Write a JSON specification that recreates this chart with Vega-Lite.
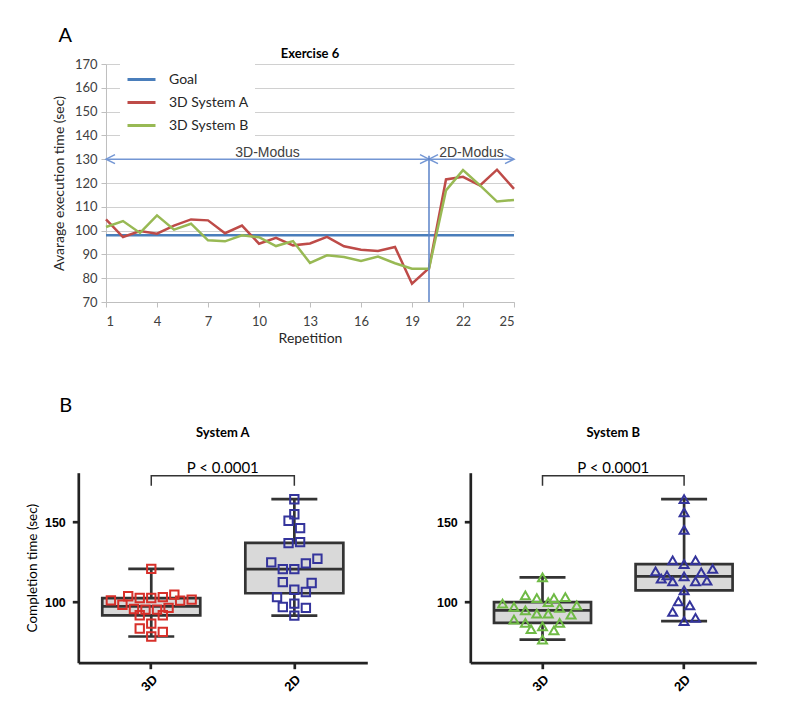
{
  "$schema": "https://vega.github.io/schema/vega-lite/v6.json",
  "background": "white",
  "padding": {"left": 25.3, "top": 25, "right": 5, "bottom": 5},
  "config": {"view": {"stroke": null}, "font": "Lato"},
  "datasets": {
    "series": [
      {"rep": 1, "time": 98, "series": "Goal"},
      {"rep": 25, "time": 98, "series": "Goal"},
      {"rep": 1, "time": 104.7, "series": "3D System A"},
      {"rep": 2, "time": 97.3, "series": "3D System A"},
      {"rep": 3, "time": 99.8, "series": "3D System A"},
      {"rep": 4, "time": 98.7, "series": "3D System A"},
      {"rep": 5, "time": 102.1, "series": "3D System A"},
      {"rep": 6, "time": 104.7, "series": "3D System A"},
      {"rep": 7, "time": 104.3, "series": "3D System A"},
      {"rep": 8, "time": 98.9, "series": "3D System A"},
      {"rep": 9, "time": 102.1, "series": "3D System A"},
      {"rep": 10, "time": 94.5, "series": "3D System A"},
      {"rep": 11, "time": 97, "series": "3D System A"},
      {"rep": 12, "time": 93.8, "series": "3D System A"},
      {"rep": 13, "time": 94.6, "series": "3D System A"},
      {"rep": 14, "time": 97.4, "series": "3D System A"},
      {"rep": 15, "time": 93.4, "series": "3D System A"},
      {"rep": 16, "time": 92, "series": "3D System A"},
      {"rep": 17, "time": 91.4, "series": "3D System A"},
      {"rep": 18, "time": 93.1, "series": "3D System A"},
      {"rep": 19, "time": 77.7, "series": "3D System A"},
      {"rep": 20, "time": 84.2, "series": "3D System A"},
      {"rep": 21, "time": 121.5, "series": "3D System A"},
      {"rep": 22, "time": 122.6, "series": "3D System A"},
      {"rep": 23, "time": 119, "series": "3D System A"},
      {"rep": 24, "time": 125.6, "series": "3D System A"},
      {"rep": 25, "time": 117.5, "series": "3D System A"},
      {"rep": 1, "time": 101.5, "series": "3D System B"},
      {"rep": 2, "time": 104, "series": "3D System B"},
      {"rep": 3, "time": 99, "series": "3D System B"},
      {"rep": 4, "time": 106.4, "series": "3D System B"},
      {"rep": 5, "time": 100.4, "series": "3D System B"},
      {"rep": 6, "time": 102.9, "series": "3D System B"},
      {"rep": 7, "time": 95.9, "series": "3D System B"},
      {"rep": 8, "time": 95.5, "series": "3D System B"},
      {"rep": 9, "time": 98, "series": "3D System B"},
      {"rep": 10, "time": 97.2, "series": "3D System B"},
      {"rep": 11, "time": 93.5, "series": "3D System B"},
      {"rep": 12, "time": 95.6, "series": "3D System B"},
      {"rep": 13, "time": 86.4, "series": "3D System B"},
      {"rep": 14, "time": 89.6, "series": "3D System B"},
      {"rep": 15, "time": 88.9, "series": "3D System B"},
      {"rep": 16, "time": 87.2, "series": "3D System B"},
      {"rep": 17, "time": 89.1, "series": "3D System B"},
      {"rep": 18, "time": 86.3, "series": "3D System B"},
      {"rep": 19, "time": 84, "series": "3D System B"},
      {"rep": 20, "time": 84, "series": "3D System B"},
      {"rep": 21, "time": 116.9, "series": "3D System B"},
      {"rep": 22, "time": 125.4, "series": "3D System B"},
      {"rep": 23, "time": 119, "series": "3D System B"},
      {"rep": 24, "time": 112.2, "series": "3D System B"},
      {"rep": 25, "time": 112.9, "series": "3D System B"}
    ],
    "modus": [
      {"label": "3D-Modus", "start": 1, "end": 20, "mid": 10.5, "level": 130, "labelLevel": 130.8},
      {"label": "2D-Modus", "start": 20, "end": 25, "mid": 22.5, "level": 130, "labelLevel": 130.8}
    ],
    "heads": [
      {"rep": 1, "level": 130, "dir": "left"},
      {"rep": 20, "level": 130, "dir": "right"},
      {"rep": 20, "level": 130, "dir": "left"},
      {"rep": 25, "level": 130, "dir": "right"}
    ],
    "scores": [
      {"system": "A", "group": "3D", "value": 120.8, "lane": 0},
      {"system": "A", "group": "3D", "value": 101, "lane": -7},
      {"system": "A", "group": "3D", "value": 98.3, "lane": -5},
      {"system": "A", "group": "3D", "value": 103.6, "lane": -4},
      {"system": "A", "group": "3D", "value": 102.5, "lane": -2},
      {"system": "A", "group": "3D", "value": 102.5, "lane": 0},
      {"system": "A", "group": "3D", "value": 103.1, "lane": 2},
      {"system": "A", "group": "3D", "value": 104.6, "lane": 4},
      {"system": "A", "group": "3D", "value": 100.9, "lane": 5},
      {"system": "A", "group": "3D", "value": 101.5, "lane": 7},
      {"system": "A", "group": "3D", "value": 95.6, "lane": -3},
      {"system": "A", "group": "3D", "value": 95.2, "lane": -1},
      {"system": "A", "group": "3D", "value": 95.2, "lane": 1},
      {"system": "A", "group": "3D", "value": 96.3, "lane": 3},
      {"system": "A", "group": "3D", "value": 91.7, "lane": -2},
      {"system": "A", "group": "3D", "value": 91.7, "lane": 2},
      {"system": "A", "group": "3D", "value": 83.4, "lane": -2},
      {"system": "A", "group": "3D", "value": 86.5, "lane": 0},
      {"system": "A", "group": "3D", "value": 81.3, "lane": 2},
      {"system": "A", "group": "3D", "value": 78.4, "lane": 0},
      {"system": "A", "group": "2D", "value": 164.4, "lane": 0},
      {"system": "A", "group": "2D", "value": 155, "lane": 0},
      {"system": "A", "group": "2D", "value": 150.9, "lane": -1},
      {"system": "A", "group": "2D", "value": 146.3, "lane": 1},
      {"system": "A", "group": "2D", "value": 136.9, "lane": -1},
      {"system": "A", "group": "2D", "value": 137.5, "lane": 1},
      {"system": "A", "group": "2D", "value": 124.8, "lane": -4},
      {"system": "A", "group": "2D", "value": 127.1, "lane": 4},
      {"system": "A", "group": "2D", "value": 124.2, "lane": 2},
      {"system": "A", "group": "2D", "value": 120.6, "lane": -2},
      {"system": "A", "group": "2D", "value": 120.6, "lane": 0},
      {"system": "A", "group": "2D", "value": 112.5, "lane": -2},
      {"system": "A", "group": "2D", "value": 111.9, "lane": 3},
      {"system": "A", "group": "2D", "value": 107.7, "lane": 0},
      {"system": "A", "group": "2D", "value": 106.3, "lane": 2},
      {"system": "A", "group": "2D", "value": 103.1, "lane": -3},
      {"system": "A", "group": "2D", "value": 96.9, "lane": -2},
      {"system": "A", "group": "2D", "value": 99, "lane": 0},
      {"system": "A", "group": "2D", "value": 96.3, "lane": 2},
      {"system": "A", "group": "2D", "value": 91.5, "lane": 0},
      {"system": "B", "group": "3D", "value": 115.4, "lane": 0},
      {"system": "B", "group": "3D", "value": 104.2, "lane": -3},
      {"system": "B", "group": "3D", "value": 102.5, "lane": -1},
      {"system": "B", "group": "3D", "value": 102.5, "lane": 2},
      {"system": "B", "group": "3D", "value": 103.1, "lane": 4},
      {"system": "B", "group": "3D", "value": 100, "lane": 1},
      {"system": "B", "group": "3D", "value": 99, "lane": -7},
      {"system": "B", "group": "3D", "value": 97.9, "lane": 6},
      {"system": "B", "group": "3D", "value": 96.9, "lane": -5},
      {"system": "B", "group": "3D", "value": 96.3, "lane": 3},
      {"system": "B", "group": "3D", "value": 94.8, "lane": -3},
      {"system": "B", "group": "3D", "value": 92.7, "lane": -1},
      {"system": "B", "group": "3D", "value": 92.7, "lane": 1},
      {"system": "B", "group": "3D", "value": 92.1, "lane": 5},
      {"system": "B", "group": "3D", "value": 89, "lane": -5},
      {"system": "B", "group": "3D", "value": 86.9, "lane": -3},
      {"system": "B", "group": "3D", "value": 86.9, "lane": 3},
      {"system": "B", "group": "3D", "value": 84.8, "lane": 0},
      {"system": "B", "group": "3D", "value": 83.1, "lane": -2},
      {"system": "B", "group": "3D", "value": 82.3, "lane": 2},
      {"system": "B", "group": "3D", "value": 76.5, "lane": 0},
      {"system": "B", "group": "2D", "value": 164.4, "lane": 0},
      {"system": "B", "group": "2D", "value": 156.2, "lane": 0},
      {"system": "B", "group": "2D", "value": 145.2, "lane": 0},
      {"system": "B", "group": "2D", "value": 126.1, "lane": -2},
      {"system": "B", "group": "2D", "value": 126.1, "lane": 2},
      {"system": "B", "group": "2D", "value": 123.8, "lane": 0},
      {"system": "B", "group": "2D", "value": 119.2, "lane": -5},
      {"system": "B", "group": "2D", "value": 120.8, "lane": 5},
      {"system": "B", "group": "2D", "value": 116.7, "lane": -3},
      {"system": "B", "group": "2D", "value": 118.5, "lane": 3},
      {"system": "B", "group": "2D", "value": 114.6, "lane": -4},
      {"system": "B", "group": "2D", "value": 116.1, "lane": 0},
      {"system": "B", "group": "2D", "value": 112.9, "lane": -2},
      {"system": "B", "group": "2D", "value": 112.9, "lane": 2},
      {"system": "B", "group": "2D", "value": 113.4, "lane": 4},
      {"system": "B", "group": "2D", "value": 107.3, "lane": 0},
      {"system": "B", "group": "2D", "value": 100.4, "lane": -1},
      {"system": "B", "group": "2D", "value": 97.9, "lane": 1},
      {"system": "B", "group": "2D", "value": 93.8, "lane": -2},
      {"system": "B", "group": "2D", "value": 90, "lane": 2},
      {"system": "B", "group": "2D", "value": 88, "lane": 0}
    ],
    "bracket": [
      {"system": "A", "group": "3D", "level": 172.9, "ord": 1},
      {"system": "A", "group": "3D", "level": 179.1, "ord": 2},
      {"system": "A", "group": "2D", "level": 179.1, "ord": 3},
      {"system": "A", "group": "2D", "level": 172.9, "ord": 4},
      {"system": "B", "group": "3D", "level": 172.9, "ord": 1},
      {"system": "B", "group": "3D", "level": 179.1, "ord": 2},
      {"system": "B", "group": "2D", "level": 179.1, "ord": 3},
      {"system": "B", "group": "2D", "level": 172.9, "ord": 4}
    ]
  },
  "bounds": "flush",
  "spacing": 408.7,
  "resolve": {"scale": {"x": "independent", "y": "independent", "color": "independent", "shape": "independent", "xOffset": "independent"}, "legend": {"color": "independent", "shape": "independent"}},
  "vconcat": [
    {
      "title": {"text": "A", "anchor": "start", "frame": "bounds", "font": "Lato", "fontSize": 20, "fontWeight": "normal", "color": "black", "dx": 6, "offset": 2.5},
      "bounds": "flush",
      "spacing": 26.7,
      "resolve": {"scale": {"x": "independent", "y": "independent", "color": "independent", "shape": "independent"}, "legend": {"color": "independent", "shape": "independent"}},
      "hconcat": [
        {
          "width": 1, "height": 1,
          "data": {"values": [{"k": 0}]},
          "mark": {"type": "point", "opacity": 0},
          "encoding": {}
        },
        {
          "width": 408, "height": 238,
          "title": {"text": "Exercise 6", "font": "Lato", "fontSize": 13, "fontWeight": "bold", "color": "black", "offset": -3},
          "layer": [
            {
              "data": {"name": "series"},
              "mark": {"type": "line", "strokeWidth": 2.5},
              "encoding": {
                "x": {"field": "rep", "type": "quantitative", "scale": {"domain": [1, 25], "nice": false, "zero": false},
                  "axis": {"values": [1, 4, 7, 10, 13, 16, 19, 22, 25], "tickCount": 9, "title": "Repetition", "grid": false, "domainColor": "#bfbfbf", "tickColor": "#bfbfbf", "tickSize": 5, "labelFont": "Lato", "labelFontSize": 13, "labelColor": "#404040", "labelPadding": 8.5, "titleFont": "Lato", "titleFontSize": 14, "titleFontWeight": "normal", "titleColor": "#262626", "titlePadding": 3}},
                "y": {"field": "time", "type": "quantitative", "scale": {"domain": [70, 170], "nice": false, "zero": false},
                  "axis": {"values": [70, 80, 90, 100, 110, 120, 130, 140, 150, 160, 170], "tickCount": 11, "title": "Avarage execution time (sec)", "grid": true, "gridColor": "#d0d0d0", "gridWidth": 1, "domainColor": "#bfbfbf", "tickColor": "#bfbfbf", "tickSize": 5, "labelFont": "Lato", "labelFontSize": 13, "labelColor": "#404040", "labelPadding": 4, "labelOverlap": false, "titleFont": "Lato", "titleFontSize": 14, "titleFontWeight": "normal", "titleColor": "#262626", "titlePadding": 8}},
                "color": {"field": "series", "type": "nominal",
                  "scale": {"domain": ["Goal", "3D System A", "3D System B"], "range": ["#4a7ebb", "#be4b48", "#98b954"]},
                  "legend": {"orient": "none", "legendX": 14, "legendY": -6, "title": null, "symbolType": "stroke", "symbolSize": 784, "symbolStrokeWidth": 3, "labelFont": "Lato", "labelFontSize": 14, "labelColor": "#262626", "fillColor": "white", "padding": 6, "rowPadding": -9, "labelOffset": 12}}
              }
            },
            {
              "data": {"name": "modus"},
              "mark": {"type": "rule", "color": "#7396d4", "strokeWidth": 1.5},
              "encoding": {
                "x": {"field": "start", "type": "quantitative"},
                "x2": {"field": "end"},
                "y": {"field": "level", "type": "quantitative"}
              }
            },
            {
              "data": {"name": "heads"},
              "mark": {"type": "point", "filled": false, "size": 81, "strokeWidth": 1.5, "color": "#7396d4", "opacity": 1},
              "encoding": {
                "x": {"field": "rep", "type": "quantitative"},
                "y": {"field": "level", "type": "quantitative"},
                "shape": {"field": "dir", "type": "nominal", "scale": {"domain": ["left", "right"], "range": ["M2,-1L0,0L2,1", "M-2,-1L0,0L-2,1"]}, "legend": null}
              }
            },
            {
              "data": {"name": "modus"},
              "mark": {"type": "text", "font": "Liberation Sans Narrow, Arial Narrow, Liberation Sans", "fontSize": 14, "color": "#404040", "baseline": "alphabetic"},
              "encoding": {
                "x": {"field": "mid", "type": "quantitative"},
                "y": {"field": "labelLevel", "type": "quantitative"},
                "text": {"field": "label"}
              }
            },
            {
              "data": {"values": [{"rep": 20, "lo": 70, "hi": 131.5}]},
              "mark": {"type": "rule", "color": "#5b82c8", "strokeWidth": 1.5},
              "encoding": {
                "x": {"field": "rep", "type": "quantitative"},
                "y": {"field": "lo", "type": "quantitative"},
                "y2": {"field": "hi"}
              }
            }
          ]
        }
      ]
    },
    {
      "title": {"text": "B", "anchor": "start", "frame": "bounds", "font": "Lato", "fontSize": 20, "fontWeight": "normal", "color": "black", "dx": 33.7, "offset": 11},
      "bounds": "flush",
      "spacing": 103,
      "resolve": {"scale": {"x": "independent", "y": "independent", "color": "independent", "shape": "independent", "xOffset": "independent"}},
      "hconcat": [
        {
          "width": 289, "height": 190,
          "title": {"text": "System A", "subtitle": "P < 0.0001", "font": "Lato", "fontSize": 13, "fontWeight": "bold", "color": "black", "subtitleFont": "Lato", "subtitleFontSize": 15, "subtitleColor": "black", "subtitlePadding": 21, "offset": -3},
          "layer": [
            {
              "data": {"name": "scores"},
              "transform": [{"filter": "datum.system === 'A'"}],
              "mark": {"type": "boxplot", "extent": "min-max", "size": 98,
                "box": {"fill": "#d9d9d9", "stroke": "#333333", "strokeWidth": 2.7},
                "median": {"color": "#333333", "thickness": 2.7, "opacity": 1},
                "rule": {"color": "#333333", "strokeWidth": 2.7},
                "ticks": {"color": "#333333", "size": 46, "thickness": 2.7, "opacity": 1}},
              "encoding": {
                "x": {"field": "group", "type": "nominal", "scale": {"domain": ["3D", "2D"], "paddingInner": 0, "paddingOuter": 0.01},
                  "axis": {"title": null, "labelAngle": -45, "labelFont": "Liberation Sans", "labelFontSize": 13, "labelFontWeight": "bold", "labelColor": "black", "labelPadding": 4, "domainColor": "#222222", "domainWidth": 2.7, "tickColor": "#222222", "tickWidth": 2.7, "tickSize": 6, "grid": false}},
                "y": {"field": "value", "type": "quantitative", "scale": {"domain": [62, 181], "nice": false, "zero": false},
                  "axis": {"values": [100, 150], "title": "Completion time (sec)", "titleFont": "Lato", "titleFontSize": 13.5, "titleFontWeight": "normal", "titleColor": "black", "titlePadding": 5, "labelFont": "Liberation Sans Narrow, Liberation Sans", "labelFontSize": 12.5, "labelFontWeight": "bold", "labelColor": "black", "labelPadding": 7, "domainColor": "#222222", "domainWidth": 2.7, "tickColor": "#222222", "tickWidth": 2.7, "tickSize": 6, "grid": false}}
              }
            },
            {
              "data": {"name": "bracket"},
              "transform": [{"filter": "datum.system === 'A'"}],
              "mark": {"type": "line", "color": "#333333", "strokeWidth": 1.5},
              "encoding": {
                "x": {"field": "group", "type": "nominal"},
                "y": {"field": "level", "type": "quantitative"},
                "order": {"field": "ord", "type": "quantitative"}
              }
            },
            {
              "data": {"name": "scores"},
              "transform": [{"filter": "datum.system === 'A'"}],
              "mark": {"type": "point", "shape": "square", "filled": false, "size": 70, "strokeWidth": 2, "opacity": 1},
              "encoding": {
                "x": {"field": "group", "type": "nominal"},
                "y": {"field": "value", "type": "quantitative"},
                "xOffset": {"field": "lane", "type": "quantitative", "scale": {"domain": [-12.4, 12.4], "nice": false, "zero": false}},
                "color": {"field": "group", "type": "nominal", "scale": {"domain": ["3D", "2D"], "range": ["#d7302a", "#34349c"]}, "legend": null}
              }
            }
          ]
        },
        {
          "width": 286, "height": 190,
          "title": {"text": "System B", "subtitle": "P < 0.0001", "font": "Lato", "fontSize": 13, "fontWeight": "bold", "color": "black", "subtitleFont": "Lato", "subtitleFontSize": 15, "subtitleColor": "black", "subtitlePadding": 21, "offset": -3},
          "layer": [
            {
              "data": {"name": "scores"},
              "transform": [{"filter": "datum.system === 'B'"}],
              "mark": {"type": "boxplot", "extent": "min-max", "size": 97,
                "box": {"fill": "#d9d9d9", "stroke": "#333333", "strokeWidth": 2.7},
                "median": {"color": "#333333", "thickness": 2.7, "opacity": 1},
                "rule": {"color": "#333333", "strokeWidth": 2.7},
                "ticks": {"color": "#333333", "size": 46, "thickness": 2.7, "opacity": 1}},
              "encoding": {
                "x": {"field": "group", "type": "nominal", "scale": {"domain": ["3D", "2D"], "paddingInner": 0, "paddingOuter": 0.01},
                  "axis": {"title": null, "labelAngle": -45, "labelFont": "Liberation Sans", "labelFontSize": 13, "labelFontWeight": "bold", "labelColor": "black", "labelPadding": 4, "domainColor": "#222222", "domainWidth": 2.7, "tickColor": "#222222", "tickWidth": 2.7, "tickSize": 6, "grid": false}},
                "y": {"field": "value", "type": "quantitative", "scale": {"domain": [62, 181], "nice": false, "zero": false},
                  "axis": {"values": [100, 150], "title": null, "labelFont": "Liberation Sans Narrow, Liberation Sans", "labelFontSize": 12.5, "labelFontWeight": "bold", "labelColor": "black", "labelPadding": 7, "domainColor": "#222222", "domainWidth": 2.7, "tickColor": "#222222", "tickWidth": 2.7, "tickSize": 6, "grid": false}}
              }
            },
            {
              "data": {"name": "bracket"},
              "transform": [{"filter": "datum.system === 'B'"}],
              "mark": {"type": "line", "color": "#333333", "strokeWidth": 1.5},
              "encoding": {
                "x": {"field": "group", "type": "nominal"},
                "y": {"field": "level", "type": "quantitative"},
                "order": {"field": "ord", "type": "quantitative"}
              }
            },
            {
              "data": {"name": "scores"},
              "transform": [{"filter": "datum.system === 'B'"}],
              "mark": {"type": "point", "shape": "triangle-up", "filled": false, "size": 80, "strokeWidth": 2, "opacity": 1},
              "encoding": {
                "x": {"field": "group", "type": "nominal"},
                "y": {"field": "value", "type": "quantitative"},
                "xOffset": {"field": "lane", "type": "quantitative", "scale": {"domain": [-12.4, 12.4], "nice": false, "zero": false}},
                "color": {"field": "group", "type": "nominal", "scale": {"domain": ["3D", "2D"], "range": ["#6fba45", "#34349c"]}, "legend": null}
              }
            }
          ]
        }
      ]
    }
  ]
}
